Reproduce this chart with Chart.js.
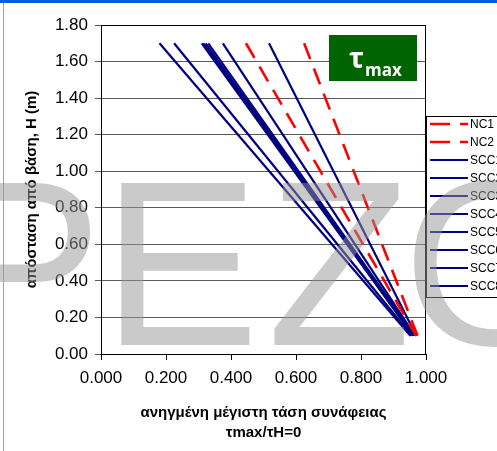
<!DOCTYPE html>
<html>
<head>
<meta charset="utf-8">
<script src="https://cdn.jsdelivr.net/npm/chart.js@4.4.1/dist/chart.umd.min.js"></script>
<style>
  html, body { margin: 0; padding: 0; background: #fff; }
  #wrap { position: relative; width: 497px; height: 451px; }
</style>
</head>
<body>
<div id="wrap"><canvas id="tauChart" width="497" height="451"></canvas></div>
<script>
// heights above the base (m) where each profile is given
const heights = [1.70, 0.10];

// normalised max bond stress tmax/tH=0 at those heights
const nc1 = [0.446, 0.970];
const nc2 = [0.625, 0.974];
const scc1 = [0.180, 0.952];
const scc2 = [0.225, 0.956];
const scc3 = [0.310, 0.960];
const scc4 = [0.315, 0.961];
const scc5 = [0.322, 0.963];
const scc6 = [0.330, 0.965];
const scc7 = [0.375, 0.966];
const scc8 = [0.517, 0.970];

const seriesNames = ['NC1', 'NC2', 'SCC1', 'SCC2', 'SCC3', 'SCC4', 'SCC5', 'SCC6', 'SCC7', 'SCC8'];
const seriesValues = [nc1, nc2, scc1, scc2, scc3, scc4, scc5, scc6, scc7, scc8];

const yTicks = [0, 0.2, 0.4, 0.6, 0.8, 1.0, 1.2, 1.4, 1.6, 1.8];
const xTicks = [0, 0.2, 0.4, 0.6, 0.8, 1.0];

const FONT = '"Liberation Sans", Arial, sans-serif';

const datasets = seriesNames.map((name, i) => {
  const isNC = name.startsWith('NC');
  return {
    label: name,
    data: heights.map((h, k) => ({ x: seriesValues[i][k], y: h })),
    borderColor: isNC ? '#ff0000' : '#000080',
    borderWidth: isNC ? 2.6 : 2.2,
    borderDash: isNC ? [17, 10] : [],
    pointRadius: 0,
    fill: false,
    tension: 0,
  };
});

// page frame: blue strip on top, grey rule down the left
const pageFrame = {
  id: 'pageFrame',
  beforeDraw(chart) {
    const ctx = chart.ctx;
    ctx.save();
    ctx.fillStyle = '#fff';
    ctx.fillRect(0, 0, chart.width, chart.height);
    ctx.fillStyle = '#0a5ae8';
    ctx.fillRect(0, 0, chart.width, 3);
    ctx.fillStyle = '#a0a0a0';
    ctx.fillRect(3, 3, 1, chart.height - 3);
    ctx.restore();
  },
};

// right border of the plot, the tau label box and the side legend
const extras = {
  id: 'extras',
  afterDatasetsDraw(chart) {
    const ctx = chart.ctx;
    const a = chart.chartArea;
    ctx.save();
    ctx.strokeStyle = '#000';
    ctx.lineWidth = 1;
    ctx.beginPath();
    ctx.moveTo(Math.round(a.right) - 0.5, a.top);
    ctx.lineTo(Math.round(a.right) - 0.5, a.bottom);
    ctx.moveTo(a.left, Math.round(a.top) + 0.5);
    ctx.lineTo(a.right, Math.round(a.top) + 0.5);
    ctx.stroke();

    // green tau box
    ctx.fillStyle = '#006400';
    ctx.fillRect(329, 35, 88, 46);
    ctx.fillStyle = '#fff';
    ctx.textBaseline = 'alphabetic';
    ctx.font = 'bold 28px "Open Sans", sans-serif';
    ctx.fillText('τ', 349, 68);
    ctx.font = 'bold 17px "Open Sans", sans-serif';
    ctx.fillText('max', 365, 76);

    // legend
    const lx = 426, ly = 116;
    ctx.fillStyle = '#fff';
    ctx.fillRect(lx, ly, 100, 181);
    ctx.strokeStyle = '#000';
    ctx.strokeRect(lx + 0.5, ly + 0.5, 100, 181);
    ctx.font = '12px ' + FONT;
    ctx.textBaseline = 'middle';
    chart.data.datasets.forEach((ds, i) => {
      const y = 124 + i * 18;
      ctx.strokeStyle = ds.borderColor;
      ctx.lineWidth = ds.borderWidth;
      ctx.setLineDash(ds.borderDash.length ? [20, 10] : []);
      ctx.beginPath();
      ctx.moveTo(430, y);
      ctx.lineTo(468, y);
      ctx.stroke();
      ctx.setLineDash([]);
      ctx.fillStyle = '#000';
      ctx.fillText(ds.label, 470, y + 1);
    });
    ctx.restore();
  },
  afterDraw(chart) {
    // big grey lettering laid across the whole sheet
    const ctx = chart.ctx;
    ctx.save();
    ctx.font = '236px ' + FONT;
    ctx.textBaseline = 'alphabetic';
    ctx.fillStyle = 'rgba(150,150,150,0.5)';
    const letters = [['P', -55], ['E', 102], ['Z', 267], ['O', 403]];
    letters.forEach(([ch, x]) => ctx.fillText(ch, x, 345));
    ctx.restore();
  },
};

new Chart(document.getElementById('tauChart'), {
  type: 'line',
  data: { datasets },
  plugins: [pageFrame, extras],
  options: {
    responsive: false,
    animation: false,
    events: [],
    layout: { padding: { top: 25, right: 71, bottom: 0, left: 0 } },
    plugins: { legend: { display: false }, tooltip: { enabled: false } },
    scales: {
      x: {
        type: 'linear',
        min: 0,
        max: 1,
        afterFit(scale) { scale.height = 97; },
        afterBuildTicks(scale) { scale.ticks = xTicks.map(v => ({ value: v })); },
        ticks: {
          color: '#000',
          font: { family: FONT, size: 17 },
          padding: 8,
          maxRotation: 0,
          callback: v => Number(v).toFixed(3),
        },
        grid: { drawOnChartArea: false, color: '#000', tickLength: 6 },
        border: { color: '#000', width: 1 },
        title: {
          display: true,
          text: ['ανηγμένη μέγιστη τάση συνάφειας', 'τmax/τH=0'],
          color: '#000',
          font: { family: FONT, size: 15, weight: 'bold', lineHeight: 1.33 },
          padding: { top: 0, bottom: 8 },
        },
      },
      y: {
        type: 'linear',
        min: 0,
        max: 1.8,
        afterFit(scale) { scale.width = 101; },
        afterBuildTicks(scale) { scale.ticks = yTicks.map(v => ({ value: v })); },
        ticks: {
          color: '#000',
          font: { family: FONT, size: 17 },
          padding: 7,
          callback: v => Number(v).toFixed(2),
        },
        grid: { color: '#5a5a5a', lineWidth: 1, tickLength: 6 },
        border: { color: '#000', width: 1 },
        title: {
          display: true,
          text: 'απόσταση από βάση, H (m)',
          color: '#000',
          font: { family: FONT, size: 15, weight: 'bold', lineHeight: 1.2 },
          padding: { top: 23, bottom: 0 },
        },
      },
    },
  },
});
</script>
</body>
</html>
